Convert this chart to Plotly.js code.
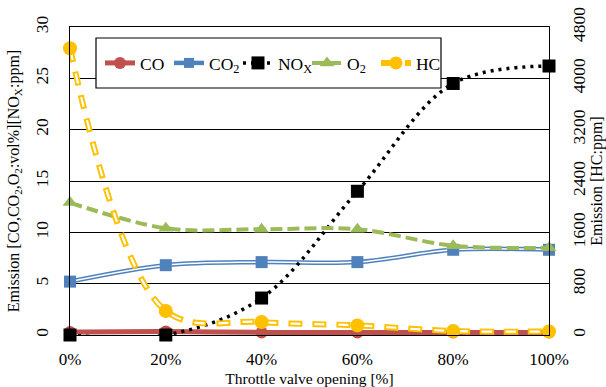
<!DOCTYPE html>
<html><head><meta charset="utf-8">
<script src="https://cdn.plot.ly/plotly-3.0.1.min.js"></script>
<style>html,body{margin:0;padding:0;background:#fff}#chart{width:606px;height:387px}</style>
</head><body><div id="chart"></div>
<script>
const throttle = [0, 20, 40, 60, 80, 100];
const coVals  = [0.3, 0.35, 0.25, 0.25, 0.25, 0.25];
const co2Vals = [5.2, 6.8, 7.1, 7.1, 8.3, 8.3];
const noxVals = [0, 0, 3.6, 14.0, 24.5, 26.2];
const o2Vals  = [12.9, 10.4, 10.3, 10.3, 8.7, 8.5];
const hcVals  = [4470, 375, 203, 150, 62, 55];
const leftTicks = [0, 5, 10, 15, 20, 25, 30];
const rightTicks = [0, 800, 1600, 2400, 3200, 4000, 4800];

const FONT = "'Liberation Serif', 'Times New Roman', Times, serif";
const traces = [
  {x: throttle, y: coVals, name: 'CO', mode: 'lines+markers', line: {color: '#C0504D', width: 5, shape: 'spline'},
   marker: {symbol: 'circle', size: 12, color: '#C0504D'}, cliponaxis: false},
  {x: throttle, y: co2Vals, name: 'CO<sub>2</sub>', mode: 'lines+markers', line: {color: '#4F81BD', width: 4.5, shape: 'spline'},
   marker: {symbol: 'square', size: 10, color: '#4F81BD'}, cliponaxis: false},
  {x: throttle, y: co2Vals, showlegend: false, mode: 'lines', line: {color: '#ffffff', width: 1.5, shape: 'spline'}, hoverinfo: 'skip'},
  {x: throttle, y: co2Vals, showlegend: false, mode: 'markers', marker: {symbol: 'square', size: 12, color: '#4F81BD'}, cliponaxis: false},
  {x: throttle, y: noxVals, name: 'NO<sub>X</sub>', mode: 'lines+markers', line: {color: '#000000', width: 3.5, shape: 'spline', dash: '3px,5px'},
   marker: {symbol: 'square', size: 13, color: '#000000'}, cliponaxis: false},
  {x: throttle, y: o2Vals, name: 'O<sub>2</sub>', mode: 'lines+markers', line: {color: '#9BBB59', width: 4, shape: 'spline', dash: '12px,5px'},
   marker: {symbol: 'triangle-up', size: 13, color: '#9BBB59'}, cliponaxis: false},
  {x: throttle, y: hcVals, name: 'HC', yaxis: 'y2', mode: 'lines+markers', line: {color: '#FFC000', width: 6, shape: 'spline', dash: '14px,10px'},
   marker: {symbol: 'circle', size: 13, color: '#FFC000'}, cliponaxis: false},
  {x: throttle, y: hcVals, yaxis: 'y2', showlegend: false, mode: 'lines', line: {color: '#ffffff', width: 2.2, shape: 'spline', dash: '0px,2px,10px,12px'}, hoverinfo: 'skip'},
  {x: throttle, y: hcVals, yaxis: 'y2', showlegend: false, mode: 'markers', marker: {symbol: 'circle', size: 14, color: '#FFC000'}, cliponaxis: false}
];

const layout = {
  width: 606, height: 387,
  margin: {l: 70, r: 57, t: 27, b: 52},
  paper_bgcolor: '#ffffff', plot_bgcolor: '#ffffff',
  font: {family: FONT, size: 17, color: '#000'},
  showlegend: true,
  legend: {orientation: 'h', x: 0.0626, y: 0.883, xanchor: 'left', yanchor: 'middle',
    borderwidth: 0, bgcolor: 'rgba(0,0,0,0)', font: {family: FONT, size: 17.5, color: '#000'},
    itemwidth: 30, entrywidth: 24, entrywidthmode: 'pixels'},
  shapes: [{type: 'rect', xref: 'paper', yref: 'paper', layer: 'above',
    x0: (96 - 70) / 479, x1: (441 - 70) / 479, y0: (335 - 88) / 308, y1: (335 - 38) / 308,
    line: {color: '#000', width: 1.2}, fillcolor: '#ffffff'}],
  xaxis: {range: [0, 100], tickvals: throttle, ticktext: throttle.map(v => v + '%'),
    showgrid: false, zeroline: false, showline: true, linecolor: '#000', linewidth: 1.2, mirror: true,
    ticks: '', ticklabelstandoff: 8, tickfont: {family: FONT, size: 17},
    title: {text: 'Throttle valve opening [%]', font: {family: FONT, size: 15.5}, standoff: 6}},
  yaxis: {range: [0, 30], tickvals: leftTicks, tickangle: -90, showgrid: true, gridcolor: '#000', gridwidth: 1,
    zeroline: false, showline: true, linecolor: '#000', linewidth: 1.2, ticks: '', ticklabelstandoff: 14,
    tickfont: {family: FONT, size: 17.5},
    title: {text: 'Emission [CO,CO<sub>2</sub>,O<sub>2</sub>:vol%][NO<sub>X</sub>:ppm]', font: {family: FONT, size: 16}, standoff: 8}},
  yaxis2: {range: [0, 4800], tickvals: rightTicks, tickangle: -90, overlaying: 'y', side: 'right',
    showgrid: false, zeroline: false, showline: true, linecolor: '#000', linewidth: 1.2, ticks: '', ticklabelstandoff: 14,
    tickfont: {family: FONT, size: 17.5},
    title: {text: 'Emission [HC:ppm]', font: {family: FONT, size: 16}, standoff: 3}}
};
Plotly.newPlot('chart', traces, layout, {displayModeBar: false, staticPlot: true});
</script></body></html>
